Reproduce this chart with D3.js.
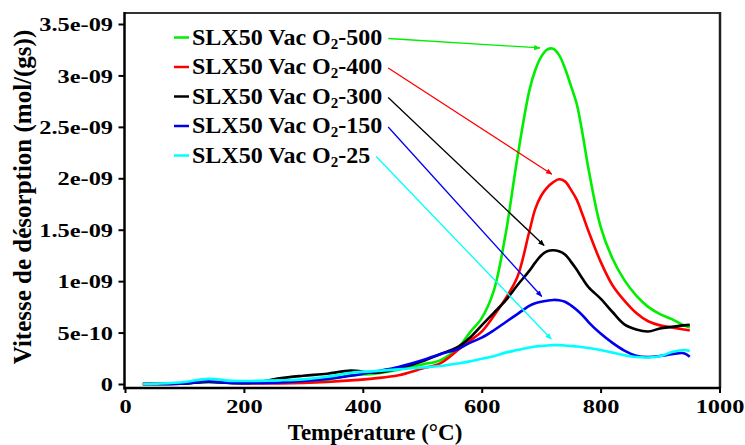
<!DOCTYPE html>
<html><head><meta charset="utf-8">
<script src="https://cdn.jsdelivr.net/npm/d3@7"></script>
<style>body{margin:0;background:#fff} svg{display:block}
text{font-family:"Liberation Serif","Times New Roman",serif;font-weight:bold;fill:#000}</style>
</head><body>
<svg id="chart" width="745" height="445"></svg>
<script>
// ---- data (values in units of 1e-9 mol/(g s)) ----
const temps = [30,60,100,140,180,220,260,300,340,380,420,460,500,530,560,580,600,620,640,660,680,690,700,710,720,730,740,750,760,770,780,800,820,840,860,880,900,920,940,950];
const o2_500 = [0,0,0.005,0.02,0.01,0.01,0.015,0.025,0.04,0.085,0.10,0.14,0.19,0.23,0.35,0.50,0.64,0.90,1.45,2.2,2.85,3.05,3.18,3.25,3.26,3.20,3.07,2.90,2.72,2.42,2.08,1.53,1.22,1.01,0.86,0.75,0.68,0.63,0.57,0.55];
const o2_400 = [0,0,0.005,0.025,0.01,0.005,0.005,0.01,0.02,0.035,0.055,0.085,0.15,0.2,0.33,0.42,0.51,0.66,0.83,1.04,1.48,1.70,1.83,1.91,1.96,1.99,1.97,1.89,1.79,1.64,1.48,1.19,0.96,0.81,0.69,0.61,0.57,0.55,0.53,0.52];
const o2_300 = [0,0,0.005,0.02,0.01,0.015,0.055,0.08,0.1,0.13,0.11,0.15,0.22,0.29,0.36,0.45,0.57,0.69,0.81,0.96,1.10,1.18,1.25,1.29,1.30,1.29,1.26,1.19,1.11,1.02,0.94,0.83,0.70,0.58,0.53,0.51,0.54,0.555,0.57,0.575];
const o2_150 = [0,0,0.005,0.025,0.01,0.01,0.015,0.03,0.05,0.08,0.12,0.165,0.23,0.29,0.34,0.40,0.45,0.52,0.60,0.68,0.76,0.785,0.80,0.81,0.817,0.815,0.80,0.765,0.72,0.665,0.60,0.49,0.40,0.325,0.275,0.262,0.272,0.29,0.30,0.265];
const o2_25  = [0,0.005,0.02,0.05,0.03,0.03,0.035,0.045,0.07,0.11,0.125,0.142,0.16,0.175,0.2,0.22,0.245,0.27,0.305,0.33,0.355,0.365,0.37,0.375,0.378,0.378,0.375,0.37,0.365,0.358,0.35,0.33,0.305,0.28,0.262,0.258,0.27,0.31,0.33,0.32];

const seriesSuffix = ["500","400","300","150","25"];
const seriesColors = ["#00ee00","#ff0000","#000000","#0000ee","#00ffff"];
const seriesValues = [o2_500,o2_400,o2_300,o2_150,o2_25];
// annotation arrow targets (temperature, value e-9)
const arrowT = [698,718,705,701,717];
const arrowV = [3.267,2.04,1.346,0.851,0.437];

const xTicks = [0,200,400,600,800,1000];
const yTickValues = [0,0.5e-9,1e-9,1.5e-9,2e-9,2.5e-9,3e-9,3.5e-9];
const yTickLabels = ["0","5e-10","1e-09","1.5e-09","2e-09","2.5e-09","3e-09","3.5e-09"];

// ---- drawing ----
const svg = d3.select("#chart");
const x = d3.scaleLinear().domain([0,1000]).range([125,719.5]);
const y = d3.scaleLinear().domain([0,3.5e-9]).range([384,24]);
const plotTop = 13, plotBottom = 388, plotLeft = 124.5, plotRight = 720;

// axes
const gx = svg.append("g").attr("transform",`translate(0,${plotBottom})`)
  .call(d3.axisBottom(x).tickValues(xTicks).tickSize(5).tickSizeOuter(0).tickFormat(d3.format("d")));
gx.select(".domain").remove();
gx.selectAll(".tick line").attr("stroke","#000").attr("stroke-width",2);
gx.selectAll(".tick text").attr("y",25).attr("dy",0)
  .style("font-size","19.5px").attr("transform","scale(1.25,1)");

const gy = svg.append("g").attr("transform",`translate(${plotLeft},0)`)
  .call(d3.axisLeft(y).tickValues(yTickValues).tickSize(6).tickSizeOuter(0)
    .tickFormat((d,i)=>yTickLabels[i]));
gy.select(".domain").remove();
gy.selectAll(".tick line").attr("stroke","#000").attr("stroke-width",2);
gy.selectAll(".tick text").attr("x",-9.2).attr("dy","0.34em")
  .style("font-size","19.5px").attr("transform","scale(1.25,1)");

// frame
const frame = svg.append("g");
frame.append("line").attr("x1",plotLeft).attr("x2",plotRight+1).attr("y1",plotTop).attr("y2",plotTop).attr("stroke","#333").attr("stroke-width",2);
frame.append("line").attr("x1",plotRight).attr("x2",plotRight).attr("y1",plotTop-1).attr("y2",plotBottom).attr("stroke","#222").attr("stroke-width",2.5);
frame.append("line").attr("x1",plotLeft).attr("x2",plotLeft).attr("y1",plotTop-1).attr("y2",plotBottom+1.5).attr("stroke","#000").attr("stroke-width",2.5);
frame.append("line").attr("x1",plotLeft-1).attr("x2",plotRight+1).attr("y1",plotBottom).attr("y2",plotBottom).attr("stroke","#000").attr("stroke-width",2.5);

// curves
const line = d3.line().x((d)=>x(d[0])).y((d)=>y(d[1]*1e-9)).curve(d3.curveCatmullRom.alpha(0.5));
seriesValues.forEach((vals,i)=>{
  svg.append("path").datum(temps.map((t,j)=>[t,vals[j]]))
    .attr("d",line).attr("fill","none").attr("stroke",seriesColors[i])
    .attr("stroke-width",2.6).attr("stroke-linejoin","round");
});

// legend + annotation arrows
const defs = svg.append("defs");
seriesColors.forEach((c,i)=>{
  defs.append("marker").attr("id","ah"+i).attr("viewBox","0 0 10 10")
    .attr("refX",9).attr("refY",5).attr("markerWidth",5).attr("markerHeight",5)
    .attr("orient","auto").append("path").attr("d","M0,1 L10,5 L0,9 Z").attr("fill",c);
});
const legX = 192, legY0 = 44.5, legDY = 29.5;
seriesSuffix.forEach((s,i)=>{
  const by = legY0 + i*legDY;
  svg.append("line").attr("x1",174).attr("x2",189).attr("y1",by-7).attr("y2",by-7)
    .attr("stroke",seriesColors[i]).attr("stroke-width",2.5);
  const t = svg.append("text").attr("x",legX).attr("y",by).style("font-size","24px");
  t.append("tspan").text("SLX50 Vac O");
  t.append("tspan").text("2").style("font-size","15px").attr("dy",4);
  t.append("tspan").text("-"+s).attr("dy",-4);
  const endX = legX + t.node().getComputedTextLength();
  svg.append("line").attr("x1",endX+6).attr("y1",by-6)
    .attr("x2",x(arrowT[i])).attr("y2",y(arrowV[i]*1e-9))
    .attr("stroke",seriesColors[i]).attr("stroke-width",1.3)
    .attr("marker-end",`url(#ah${i})`);
});

// axis titles
svg.append("text").attr("x",375).attr("y",440).attr("text-anchor","middle")
  .style("font-size","23px").text("Température (°C)");
svg.append("text").attr("transform","translate(31,197) rotate(-90)").attr("text-anchor","middle")
  .style("font-size","25px").text("Vitesse de désorption (mol/(gs))");
</script>
</body></html>
